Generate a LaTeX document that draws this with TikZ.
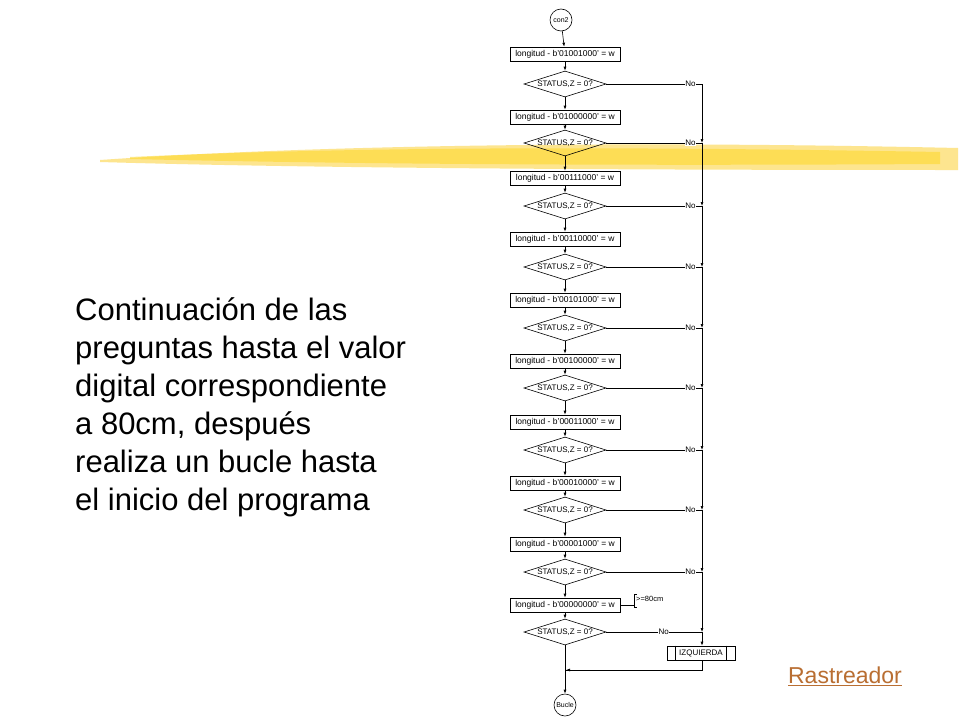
\documentclass[tikz,border=0pt]{standalone}
\usepackage{fontspec}
\setmainfont{Liberation Sans}
\usetikzlibrary{shapes.geometric,arrows.meta}
\definecolor{rast}{RGB}{185,110,50}
\begin{document}
\begin{tikzpicture}[x=1pt,y=-1pt,
 box/.style={draw,line width=0.6pt,minimum width=110pt,minimum height=14pt,inner sep=0pt,font=\fontsize{8.5}{8}\selectfont},
 dia/.style={draw,diamond,aspect=3.2,line width=0.6pt,minimum width=82pt,minimum height=26pt,inner sep=0pt,font=\fontsize{8}{8}\selectfont},
 term/.style={draw,circle,line width=0.6pt,minimum size=22pt,inner sep=0pt,font=\fontsize{7}{7}\selectfont},
 arr/.style={line width=0.6pt,-{Latex[length=4pt,width=3pt]}},
 ln/.style={line width=0.6pt},
 lbl/.style={font=\fontsize{8}{8}\selectfont,fill=white,inner sep=0.5pt}]
\useasboundingbox (0,0) rectangle (960,720);
\fill[white] (0,0) rectangle (960,720);
% yellow brush
\fill[yellow!60!orange!80!white,opacity=0.55] (100,160) .. controls (300,146) and (600,140) .. (958,148) -- (958,170) .. controls (600,170) and (300,168) .. (100,162) -- cycle;
\fill[yellow!70!orange!90!white,opacity=0.5] (130,157) .. controls (350,147) and (600,146) .. (940,152) -- (940,164) .. controls (600,166) and (350,164) .. (130,159) -- cycle;
\node[term] (s) at (561,20) {con2};
\foreach \i/\y/\v in {1/54/01001000,2/117/01000000,3/178/00111000,4/239/00110000,5/300/00101000,6/361/00100000,7/422/00011000,8/483/00010000,9/544/00001000,10/605/00000000}{
 \node[box] (b\i) at (565,\y) {longitud - b'\v' = w};
}
\foreach \i/\y in {1/84,2/143,3/206,4/267,5/328,6/388,7/450,8/510,9/572,10/632}{
 \node[dia] (d\i) at (565,\y) {STATUS,Z = 0?};
}
\draw[arr] (s) -- (b1);
\foreach \i in {1,...,10}{ \draw[arr] (b\i) -- (d\i); }
\foreach \i/\j in {1/2,2/3,3/4,4/5,5/6,6/7,7/8,8/9,9/10}{ \draw[arr] (d\i) -- (b\j); }
\coordinate (top) at (702,84);
\node[draw,line width=0.6pt,minimum width=68pt,minimum height=14pt,inner sep=0pt,font=\fontsize{8}{8}\selectfont] (iz) at (701,653) {IZQUIERDA};
\draw[ln] ([xshift=9pt]iz.north west) -- ([xshift=9pt]iz.south west);
\draw[ln] ([xshift=-9pt]iz.north east) -- ([xshift=-9pt]iz.south east);
\foreach \i/\y in {1/84,2/143,3/206,4/267,5/328,6/388,7/450,8/510,9/572}{
 \coordinate (m\i) at (702,\y);
 \draw[ln] (d\i.east) -- node[lbl,pos=0.88]{No} (m\i);
}
\coordinate (m10) at (702,632);
\draw[ln] (d10.east) -- node[lbl,pos=0.6]{No} (m10);
\draw[ln] (top) -- (m1);
\foreach \i/\j in {1/2,2/3,3/4,4/5,5/6,6/7,7/8,8/9,9/10}{ \draw[arr] (m\i) -- (m\j); }
\draw[arr] (m10) -- (iz.north -| m10);
\node[term] (e) at (565,705) {Bucle};
\coordinate (j) at (565,670);
\draw[ln] (iz.south -| m10) -- (702,670) -- (j);
\draw[arr] (d10.south) -- (e);
\draw[arr] (702,670) -- (566,670);
% annotation
\coordinate (an) at (634,605);
\draw[ln] (b10.east) -- (an);
\draw[ln] (637,594) -- (634,594) -- (634,607) -- (637,607);
\node[anchor=west,font=\fontsize{7.5}{7}\selectfont,inner sep=1pt] (at) at (635,599) {>=80cm};
% left text
\node[anchor=north west,align=left,font=\fontsize{31}{38}\selectfont,inner sep=0pt] (txt) at (75,297) {Continuación de las\\preguntas hasta el valor\\digital correspondiente\\a 80cm, después\\realiza un bucle hasta\\el inicio del programa};
\node[font=\fontsize{23}{23}\selectfont,text=rast,inner sep=0pt] (r) at (845,676) {\underline{Rastreador}};
\end{tikzpicture}
\end{document}
